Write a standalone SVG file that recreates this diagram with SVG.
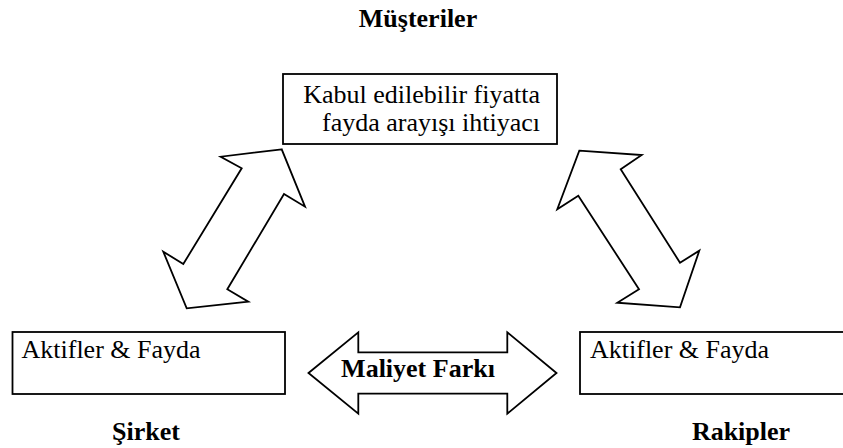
<svg xmlns="http://www.w3.org/2000/svg" width="843" height="448" viewBox="0 0 843 448">
  <style>
    .box { fill: #ffffff; stroke: #000000; stroke-width: 1.8; }
    .arrow { fill: #ffffff; stroke: #000000; stroke-width: 1.8; stroke-linejoin: miter; }
    .txt { font-family: "Liberation Serif", "Times New Roman", serif; font-size: 26px; fill: #000000; }
    .bold { font-weight: bold; }
  </style>
  <rect width="843" height="448" fill="#ffffff"/>

  <!-- customers -->
  <g id="musteriler">
    <text class="txt bold" x="418" y="27" text-anchor="middle">Müşteriler</text>
    <rect class="box" x="283" y="74" width="274" height="70"/>
    <text class="txt" x="540" y="103" text-anchor="end">Kabul edilebilir fiyatta</text>
    <text class="txt" x="540" y="131" text-anchor="end">fayda arayışı ihtiyacı</text>
  </g>

  <!-- company -->
  <g id="sirket">
    <rect class="box" x="12.5" y="332" width="272.5" height="62"/>
    <text class="txt" x="21.5" y="357.5">Aktifler &amp; Fayda</text>
    <text class="txt bold" x="146" y="440" text-anchor="middle">Şirket</text>
  </g>

  <!-- competitors -->
  <g id="rakipler">
    <rect class="box" x="580" y="332" width="270" height="62"/>
    <text class="txt" x="590" y="357.5">Aktifler &amp; Fayda</text>
    <text class="txt bold" x="741" y="440" text-anchor="middle">Rakipler</text>
  </g>

  <!-- connectors -->
  <g id="connectors">
    <polygon class="arrow" points="281.7,149.3 220.7,156.7 241.7,168.3 183.3,264 163.3,251.7 186.7,308.3 248.3,301.7 227.3,289.3 284,194 305,206.7"/>
    <polygon class="arrow" points="579.3,150.7 641.7,155 620.7,169.3 680,262.7 699.3,250.7 680,307.3 617.3,302.7 639,289.3 578.3,195.7 557.3,209.3"/>
    <g id="maliyet-farki">
      <polygon class="arrow" points="308.5,373 358.3,332.3 358.3,352.3 507.3,352.3 507.3,332.3 556.5,373 507.3,413.7 507.3,393.7 358.3,393.7 358.3,413.7"/>
      <text class="txt bold" x="418" y="377" text-anchor="middle">Maliyet Farkı</text>
    </g>
  </g>
</svg>
